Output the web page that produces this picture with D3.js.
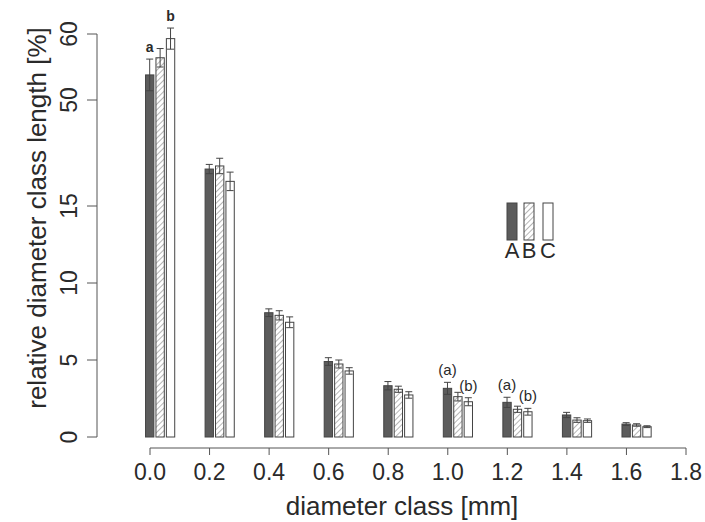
<!DOCTYPE html>
<html>
<head>
<meta charset="utf-8">
<script src="https://cdn.jsdelivr.net/npm/d3@7"></script>
<style>
  html, body { margin: 0; padding: 0; background: #fff; }
  text { font-family: "Liberation Sans", Arial, sans-serif; fill: #2a2a2a; }
</style>
</head>
<body>
<div id="chart"></div>
<script>
// diameter classes [mm]
const classes = [0.0, 0.2, 0.4, 0.6, 0.8, 1.0, 1.2, 1.4, 1.6];
const groups = ["A", "B", "C"];

// relative diameter class length [%]
const valuesA = [53.8, 17.4, 8.07, 4.9, 3.33, 3.16, 2.25, 1.43, 0.84];
const valuesB = [56.4, 17.6, 7.9, 4.74, 3.1, 2.62, 1.8, 1.1, 0.78];
const valuesC = [59.3, 16.6, 7.45, 4.29, 2.73, 2.29, 1.64, 1.06, 0.67];

// error bar half-lengths
const errA = [2.4, 0.3, 0.25, 0.25, 0.27, 0.39, 0.33, 0.17, 0.09];
const errB = [1.4, 0.5, 0.3, 0.26, 0.2, 0.28, 0.2, 0.15, 0.08];
const errC = [1.6, 0.6, 0.35, 0.21, 0.21, 0.26, 0.22, 0.11, 0.06];

// significance letters: [class index, group index, label]
const letters = [
    [0, 0, "a"], [0, 2, "b"],
    [5, 0, "(a)"], [5, 2, "(b)"],
    [6, 0, "(a)"], [6, 2, "(b)"]
];

const yTicks = [0, 5, 10, 15, 50, 60];
const xTicks = [0.0, 0.2, 0.4, 0.6, 0.8, 1.0, 1.2, 1.4, 1.6, 1.8];

const width = 705, height = 522;

const svg = d3.select("#chart")
    .append("svg")
    .attr("width", width)
    .attr("height", height);

// hatch pattern for group B
svg.append("defs").append("pattern")
    .attr("id", "hatch")
    .attr("patternUnits", "userSpaceOnUse")
    .attr("width", 4)
    .attr("height", 4)
    .attr("patternTransform", "rotate(45)")
    .call(p => {
        p.append("rect").attr("width", 4).attr("height", 4).attr("fill", "#fff");
        p.append("line")
            .attr("x1", 0).attr("y1", 0).attr("x2", 0).attr("y2", 4)
            .attr("stroke", "#777").attr("stroke-width", 1.1);
    });

const fills = ["#5c5c5c", "url(#hatch)", "#fff"];

// Scales (y axis is broken: compressed above ~19%)
const x = d3.scaleLinear().domain([0, 1.8]).range([150, 686]);
const y = d3.scaleLinear()
    .domain([0, 19, 45, 62])
    .range([437, 144.4, 133, 20.8]);

const barW = 0.028, step = 0.035, offset = -0.015;

const values = [valuesA, valuesB, valuesC];
const errs = [errA, errB, errC];

const bars = [];
classes.forEach((c, i) => {
    groups.forEach((g, j) => {
        bars.push({ c, i, j, v: values[j][i], e: errs[j][i] });
    });
});

const barX = d => x(d.c + offset + d.j * step);
const barPx = x(barW) - x(0);

// Bars
svg.append("g").selectAll("rect")
    .data(bars)
    .enter()
    .append("rect")
    .attr("x", barX)
    .attr("y", d => y(d.v))
    .attr("width", barPx)
    .attr("height", d => y(0) - y(d.v))
    .attr("fill", d => fills[d.j])
    .attr("stroke", "#444")
    .attr("stroke-width", 1);

// Error bars
const eb = svg.append("g")
    .attr("stroke", "#444")
    .attr("stroke-width", 1)
    .selectAll("g")
    .data(bars)
    .enter()
    .append("g")
    .attr("transform", d => `translate(${barX(d) + barPx / 2},0)`);

eb.append("line")
    .attr("y1", d => y(d.v - d.e))
    .attr("y2", d => y(d.v + d.e));
eb.append("line")
    .attr("x1", -3.5).attr("x2", 3.5)
    .attr("y1", d => y(d.v + d.e))
    .attr("y2", d => y(d.v + d.e));
eb.append("line")
    .attr("x1", -3.5).attr("x2", 3.5)
    .attr("y1", d => y(d.v - d.e))
    .attr("y2", d => y(d.v - d.e));

// Letters
svg.append("g").selectAll("text")
    .data(letters)
    .enter()
    .append("text")
    .attr("x", d => x(classes[d[0]] + offset + d[1] * step) + barPx / 2)
    .attr("y", d => y(values[d[1]][d[0]] + errs[d[1]][d[0]]) - 7)
    .attr("text-anchor", "middle")
    .attr("font-size", d => d[2].length > 1 ? 15 : 14)
    .attr("font-weight", d => d[2].length > 1 ? "normal" : "bold")
    .text(d => d[2]);

// Y axis
const yAxis = svg.append("g").attr("stroke", "#555");
yAxis.append("line")
    .attr("x1", 97).attr("x2", 97)
    .attr("y1", y(60)).attr("y2", y(0));
yAxis.selectAll(".tick")
    .data(yTicks)
    .enter()
    .append("line")
    .attr("x1", 87).attr("x2", 97)
    .attr("y1", d => y(d)).attr("y2", d => y(d));

svg.append("g").selectAll("text")
    .data(yTicks)
    .enter()
    .append("text")
    .attr("transform", d => `translate(77,${y(d)}) rotate(-90)`)
    .attr("text-anchor", "middle")
    .attr("font-size", 23)
    .text(d => d);

// X axis
const xAxis = svg.append("g").attr("stroke", "#555");
xAxis.append("line")
    .attr("x1", x(0)).attr("x2", x(1.8))
    .attr("y1", 448).attr("y2", 448);
xAxis.selectAll(".tick")
    .data(xTicks)
    .enter()
    .append("line")
    .attr("x1", d => x(d)).attr("x2", d => x(d))
    .attr("y1", 448).attr("y2", 455);

svg.append("g").selectAll("text")
    .data(xTicks)
    .enter()
    .append("text")
    .attr("x", d => x(d))
    .attr("y", 480)
    .attr("text-anchor", "middle")
    .attr("font-size", 23)
    .text(d => d3.format(".1f")(d));

// Axis titles
svg.append("text")
    .attr("x", 402)
    .attr("y", 515)
    .attr("text-anchor", "middle")
    .attr("font-size", 26)
    .text("diameter class [mm]");

svg.append("text")
    .attr("transform", "translate(46,218) rotate(-90)")
    .attr("text-anchor", "middle")
    .attr("font-size", 26)
    .text("relative diameter class length [%]");

// Legend
const legendX = [507, 524, 543];
const legend = svg.append("g").selectAll("g")
    .data(groups)
    .enter()
    .append("g")
    .attr("transform", (d, j) => `translate(${legendX[j]},203)`);

legend.append("rect")
    .attr("width", 10)
    .attr("height", 37)
    .attr("fill", (d, j) => fills[j])
    .attr("stroke", "#444");

legend.append("text")
    .attr("x", 5)
    .attr("y", 55)
    .attr("text-anchor", "middle")
    .attr("font-size", 22)
    .text(d => d);
</script>
</body>
</html>
